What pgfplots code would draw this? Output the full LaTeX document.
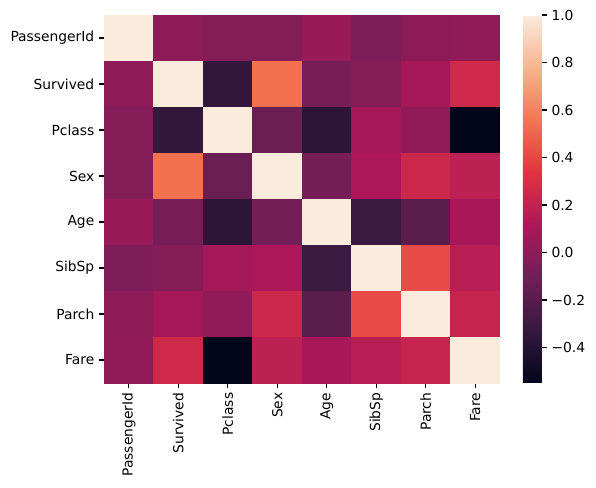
\documentclass[border=0pt]{standalone}
\usepackage{fontspec}
\setmainfont{DejaVu Sans}
\usepackage{pgfplots}
\pgfplotsset{compat=1.18}
\pgfplotsset{
  colormap={rocket}{
    rgb255=(3,5,26)
    rgb255=(53,25,62)
    rgb255=(112,31,87)
    rgb255=(173,23,89)
    rgb255=(225,51,66)
    rgb255=(243,118,81)
    rgb255=(246,180,143)
    rgb255=(250,235,221)
  }
}
\begin{document}
\begin{tikzpicture}
\path[use as bounding box] (-1.04in,-1.05in) rectangle (4.92in,3.83in);
\begin{axis}[
  at={(0,0)}, anchor=south west,
  scale only axis,
  width=3.96in, height=3.68in,
  xmin=-0.5, xmax=7.5, ymin=-0.5, ymax=7.5,
  y dir=reverse,
  axis line style={draw=none},
  xtick={0,1,2,3,4,5,6,7}, ytick={0,1,2,3,4,5,6,7},
  xticklabels={PassengerId,Survived,Pclass,Sex,Age,SibSp,Parch,Fare},
  yticklabels={PassengerId,Survived,Pclass,Sex,Age,SibSp,Parch,Fare},
  xticklabel style={rotate=90, anchor=east, font=\fontsize{10pt}{12pt}\selectfont},
  yticklabel style={font=\fontsize{10pt}{12pt}\selectfont},
  xtick pos=bottom, ytick pos=left,
  tick align=outside,
  major tick length=3.5pt,
  tick style={black, line width=0.8pt},
  colormap name=rocket,
  point meta min=-0.5495, point meta max=1,
  colorbar,
  colorbar style={
    at={(parent axis.north east)}, anchor=north west,
    xshift=0.11in,
    width=0.19in,
    axis line style={draw=none},
    ytick={-0.4,-0.2,0,0.2,0.4,0.6,0.8,1.0},
    yticklabels={−0.4,−0.2,0.0,0.2,0.4,0.6,0.8,1.0},
    yticklabel style={font=\fontsize{10pt}{12pt}\selectfont},
    ytick pos=right,
    tick align=outside,
    major tick length=3.5pt,
    tick style={black, line width=0.8pt},
  },
]
\addplot[matrix plot*, mesh/cols=8, point meta=explicit, shader=flat corner] table[meta=c] {
x y c
0 0 1.0
1 0 -0.0050
2 0 -0.0351
3 0 -0.0429
4 0 0.0368
5 0 -0.0575
6 0 -0.0017
7 0 0.0127
0 1 -0.0050
1 1 1.0
2 1 -0.3385
3 1 0.5434
4 1 -0.0772
5 1 -0.0353
6 1 0.0816
7 1 0.2573
0 2 -0.0351
1 2 -0.3385
2 2 1.0
3 2 -0.1319
4 2 -0.3692
5 2 0.0831
6 2 0.0184
7 2 -0.5495
0 3 -0.0429
1 3 0.5434
2 3 -0.1319
3 3 1.0
4 3 -0.0933
5 3 0.1146
6 3 0.2455
7 3 0.1823
0 4 0.0368
1 4 -0.0772
2 4 -0.3692
3 4 -0.0933
4 4 1.0
5 4 -0.3082
6 4 -0.1891
7 4 0.0961
0 5 -0.0575
1 5 -0.0353
2 5 0.0831
3 5 0.1146
4 5 -0.3082
5 5 1.0
6 5 0.4148
7 5 0.1597
0 6 -0.0017
1 6 0.0816
2 6 0.0184
3 6 0.2455
4 6 -0.1891
5 6 0.4148
6 6 1.0
7 6 0.2162
0 7 0.0127
1 7 0.2573
2 7 -0.5495
3 7 0.1823
4 7 0.0961
5 7 0.1597
6 7 0.2162
7 7 1.0
};
\end{axis}
\end{tikzpicture}
\end{document}
